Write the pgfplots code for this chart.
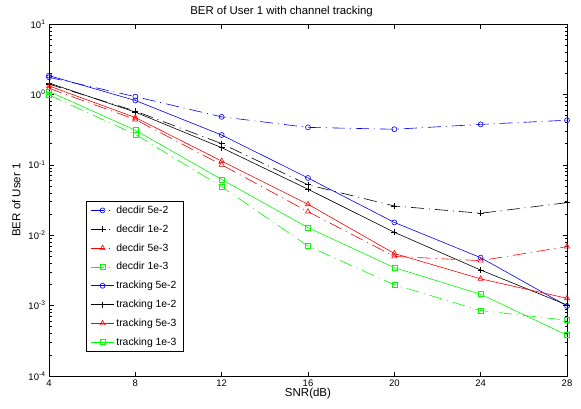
\documentclass[border=0pt]{standalone}
\usepackage{fontspec}
\setmainfont{Liberation Sans}
\usepackage{pgfplots}
\pgfplotsset{compat=1.18}
\definecolor{mblue}{rgb}{0,0,1}
\definecolor{mred}{rgb}{1,0,0}
\definecolor{mgreen}{rgb}{0,1,0}
\tikzset{dd/.style={dash pattern=on 13pt off 5pt on 1pt off 5pt}}
\begin{document}
\begin{tikzpicture}
\useasboundingbox (0pt,0pt) rectangle (581pt,408pt);
\begin{axis}[
  at={(49pt,32pt)}, anchor=south west,
  width=518pt, height=352pt, scale only axis,
  ymode=log, xmin=4, xmax=28, ymin=1e-4, ymax=10,
  xtick={4,8,12,16,20,24,28},
  ytick={1e-4,1e-3,1e-2,1e-1,1,10},
  yticklabels={10\textsuperscript{-4},10\textsuperscript{-3},10\textsuperscript{-2},10\textsuperscript{-1},10\textsuperscript{0},10\textsuperscript{1}},
  /pgf/number format/assume math mode=true,
  tick label style={font=\fontsize{9.5}{11}\selectfont},
  label style={font=\fontsize{11.5}{13}\selectfont},
  every axis title shift=0pt,
  title style={font=\fontsize{11.4}{13}\selectfont, at={(axis description cs:0.449,1.034)}, anchor=center},
  title={BER of User 1 with channel tracking},
  xlabel={SNR(dB)},
  ylabel={BER of User 1},
  xlabel style={at={(axis description cs:0.5,-0.05)}, anchor=center},
  ylabel style={at={(axis description cs:-0.063,0.5)}, anchor=center},
  axis line style={line width=0.9pt},
  tick style={line width=0.6pt, black},
  major tick length=4.5pt, minor tick length=2.5pt,
  every axis plot/.append style={line width=0.6pt},
  legend style={at={(axis description cs:0.0714,0.068)}, anchor=south west,
    font=\fontsize{10.4}{12}\selectfont, row sep=5.8pt, draw=black, line width=0.6pt,
    inner xsep=4.5pt, inner ysep=3pt},
  legend image code/.code={\draw[mark repeat=2,mark phase=2] plot coordinates {(0pt,0pt)(11.5pt,0pt)(23pt,0pt)};},
  legend cell align=left,
]
\addplot[color=mblue, dd, mark=o, mark size=2.5pt, mark options={solid}] coordinates {(4,1.75)(8,0.93)(12,0.48)(16,0.34)(20,0.32)(24,0.375)(28,0.43)};
\addlegendentry{decdir 5e-2}
\addplot[color=black, dd, mark=+, mark size=3pt, mark options={solid}] coordinates {(4,1.40)(8,0.58)(12,0.20)(16,0.052)(20,0.026)(24,0.0205)(28,0.029)};
\addlegendentry{decdir 1e-2}
\addplot[color=mred, dd, mark=triangle, mark size=3pt, mark options={solid}] coordinates {(4,1.22)(8,0.44)(12,0.10)(16,0.0216)(20,0.0050)(24,0.00435)(28,0.0069)};
\addlegendentry{decdir 5e-3}
\addplot[color=mgreen, dd, mark=square, mark size=2.5pt, mark options={solid}] coordinates {(4,0.98)(8,0.27)(12,0.049)(16,0.0070)(20,0.00198)(24,0.00085)(28,0.00062)};
\addlegendentry{decdir 1e-3}
\addplot[color=mblue, solid, mark=o, mark size=2.5pt] coordinates {(4,1.85)(8,0.82)(12,0.265)(16,0.065)(20,0.0152)(24,0.0048)(28,0.00099)};
\addlegendentry{tracking 5e-2}
\addplot[color=black, solid, mark=+, mark size=3pt] coordinates {(4,1.45)(8,0.56)(12,0.175)(16,0.045)(20,0.011)(24,0.0032)(28,0.00102)};
\addlegendentry{tracking 1e-2}
\addplot[color=mred, solid, mark=triangle, mark size=3pt] coordinates {(4,1.32)(8,0.47)(12,0.113)(16,0.0275)(20,0.0055)(24,0.0024)(28,0.00127)};
\addlegendentry{tracking 5e-3}
\addplot[color=mgreen, solid, mark=square, mark size=2.5pt] coordinates {(4,1.10)(8,0.31)(12,0.062)(16,0.0128)(20,0.00346)(24,0.00145)(28,0.00038)};
\addlegendentry{tracking 1e-3}
\end{axis}
\end{tikzpicture}
\end{document}
